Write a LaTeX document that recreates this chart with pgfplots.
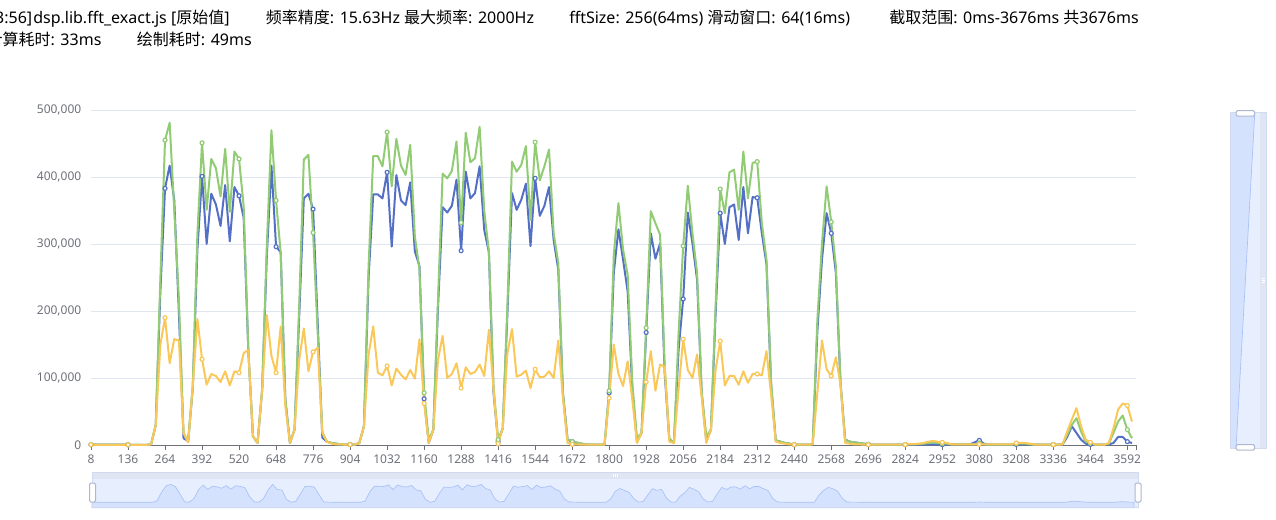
\documentclass[border=0pt]{standalone}
\usepackage{fontspec}
\setmainfont{Noto Sans}
\newfontfamily\cjk{Noto Sans CJK SC}
\usepackage{pgfplots}
\pgfplotsset{compat=1.18}
\usepackage{pgfplotstable}
\definecolor{cblue}{HTML}{5470C6}
\definecolor{cgreen}{HTML}{91CC75}
\definecolor{cyellow}{HTML}{FAC858}
\definecolor{gridc}{HTML}{E0E6F1}
\definecolor{axisc}{HTML}{6E7079}
\definecolor{filler}{HTML}{E7EFFF}
\definecolor{shadow}{HTML}{D5E2FD}
\definecolor{shadowline}{HTML}{A9C1F7}
\definecolor{strip}{HTML}{DFE5F2}
\definecolor{sborder}{HTML}{D2DBEE}
\definecolor{hborder}{HTML}{ACB8D1}

\pgfplotstableread{
t b g y
8 0.5 0.5 0.5
24 0.5 0.5 0.3
40 0.5 0.5 0.3
56 0.5 0.6 0.3
72 0.6 0.6 0.3
88 0.6 0.7 0.3
104 0.5 0.6 0.3
120 0.5 0.5 0.3
136 0.4 0.4 0.3
152 0.3 0.3 0.2
168 0.3 0.3 0.2
184 0.3 0.3 0.2
200 0.3 0.3 0.2
216 1 1 1
232 30 30 30
248 230 250 150
264 383 455 190
280 417 481 122
296 365 350 158
312 197 217 156
328 10 18 18
344 6 5 4
360 85 88 88
376 292 316 188
392 401 451 128
408 300 351 90
424 375 427 106
440 359 413 103
456 327 371 94
472 388 442 110
488 304 348 89
504 385 438 110
520 372 427 108
536 339 356 137
552 142 142 142
568 13 13 13
584 3 3 3
600 83 83 83
616 282 297 194
632 417 470 133
648 296 365 108
664 288 287 177
680 68 68 58
696 3 3 3
712 23 23 23
728 192 207 127
744 368 426 174
760 375 433 110
776 352 317 139
792 182 167 145
808 11 19 18
824 5 5 5
840 3 3 2
856 2 2 1
872 1 1 1
888 0.5 0.5 0.5
904 0.5 0.5 0.5
920 0.5 0.5 0.5
936 3 3 3
952 28 28 28
968 250 267 135
984 374 431 177
1000 374 431 108
1016 368 416 104
1032 407 467 118
1048 296 386 89
1064 403 457 114
1080 365 417 105
1096 358 403 98
1112 392 448 112
1128 289 311 99
1144 267 262 158
1160 69 78 62
1176 3 8 3
1192 23 23 23
1208 205 217 127
1224 355 405 163
1240 347 398 100
1256 357 409 106
1272 396 453 122
1288 290 332 85
1304 408 466 116
1320 368 422 106
1336 376 428 109
1352 416 475 120
1368 321 349 103
1384 288 289 172
1400 78 88 83
1416 5 8 2
1432 25 25 25
1448 195 207 137
1464 376 423 173
1480 351 408 102
1496 366 418 105
1512 390 446 111
1528 297 336 85
1544 398 452 113
1560 342 395 101
1576 357 416 102
1592 385 441 110
1608 306 316 100
1624 262 272 156
1640 78 78 70
1656 8 8 3
1672 5 5 1
1688 3 4 1
1704 2 2 0.5
1720 1 1 0.5
1736 0.5 0.5 0.5
1752 0.5 0.5 0.5
1768 0.5 0.5 0.5
1784 0.5 0.5 0.5
1800 78 81 70
1816 257 284 150
1832 322 361 106
1848 277 292 88
1864 229 254 125
1880 83 93 68
1896 5 10 3
1912 18 18 18
1928 168 175 94
1944 316 349 140
1960 278 331 81
1976 301 314 120
1992 107 117 117
2008 8 10 5
2024 3 3 3
2040 142 167 83
2056 218 297 158
2072 347 387 112
2088 301 316 100
2104 247 257 135
2120 78 78 70
2136 5 13 3
2152 23 23 23
2168 195 207 112
2184 346 382 155
2200 300 346 89
2216 355 407 103
2232 359 411 103
2248 306 351 90
2264 385 438 110
2280 316 368 93
2296 370 421 106
2312 369 423 106
2328 316 331 104
2344 270 277 140
2360 90 93 75
2376 7 7 5
2392 5 5 3
2408 3 3 2
2424 2 2 1
2440 0.5 0.5 0.5
2456 0.5 0.5 0.5
2472 0.5 0.5 0.5
2488 0.5 0.5 0.5
2504 1 1 1
2520 170 187 78
2536 277 301 156
2552 346 386 113
2568 316 333 103
2584 257 267 131
2600 93 93 90
2616 8 8 3
2632 5 5 2
2648 4 4 1
2664 3 3 1
2680 2 2 0.5
2696 1 1 0.5
2712 0.5 0.5 0.5
2728 0.5 0.5 0.5
2744 0.5 0.5 0.5
2760 0.5 0.5 0.5
2776 0.5 0.5 0.5
2792 0.5 0.5 0.5
2808 0.5 0.5 0.5
2824 0.5 0.5 0.5
2840 0.5 1 1.5
2856 0.5 1 1.5
2872 0.5 1.5 2
2888 0.5 2 3
2904 1 3 5
2920 1 4 6
2936 1 3 5
2952 0.5 2 4
2968 0.5 2 3
2984 1 1 1
3000 1 1 1
3016 1 1 1
3032 1 1 1
3048 1 1 1
3064 4 1 1
3080 7 3 1
3096 2 1 1
3112 0.5 0.5 1
3128 0.5 0.5 1
3144 0.5 0.5 1
3160 0.5 0.5 1
3176 0.5 0.5 1
3192 0.5 0.5 1
3208 1 2 3
3224 1 2 3
3240 1 2 3
3256 1 1 2
3272 0.5 0.5 0.5
3288 0.5 0.5 0.5
3304 0.5 0.5 0.5
3320 0.5 0.5 0.5
3336 0.5 0.5 0.5
3352 0.5 0.5 0.5
3368 1 1 1
3384 12 15 20
3400 28 30 38
3416 18 40 55
3432 8 20 28
3448 2 5 8
3464 1 3 4
3480 0.5 0.5 0.5
3496 0.5 0.5 0.5
3512 0.5 0.5 0.5
3528 1 2 3
3544 3 18 25
3560 12 35 53
3576 12 44 62
3592 5 23 59
3608 3 10 35
}\data

\begin{document}
\begin{tikzpicture}[x=0.75pt,y=0.75pt]
\useasboundingbox (0,0) rectangle (1276,519);
% header text
\begin{scope}[every node/.style={inner sep=0pt, font=\fontsize{12pt}{14pt}\selectfont}]
\node[anchor=base east] at (32.5,495) {3:56]};
\node[anchor=base west] at (33,495) {dsp.lib.fft\_exact.js [{\cjk 原始值}]};
\node[anchor=base west] at (265.7,495) {{\cjk 频率精度}: 15.63Hz {\cjk 最大频率}: 2000Hz};
\node[anchor=base west] at (569,495) {fftSize: 256(64ms) {\cjk 滑动窗口}: 64(16ms)};
\node[anchor=base west] at (889,495) {{\cjk 截取范围}: 0ms-3676ms {\cjk 共}3676ms};
\node[anchor=base east] at (101.7,473.3) {{\cjk 计算耗时}: 33ms};
\node[anchor=base west] at (136.7,473.3) {{\cjk 绘制耗时}: 49ms};
\end{scope}

% main chart
\begin{axis}[
  at={(68.25pt,55.5pt)}, anchor=south west,
  scale only axis, width=783.75pt, height=251.25pt,
  xmin=8, xmax=3622, ymin=0, ymax=500,
  clip=false,
  axis x line*=bottom, axis y line*=left,
  x axis line style={axisc, line width=0.75pt},
  y axis line style={draw=none},
  ytick style={draw=none},
  xtick style={axisc, line width=0.75pt},
  tick align=outside,
  major tick length=3.75pt,
  ymajorgrids, grid style={gridc, line width=0.75pt},
  xtick={8,136,...,3592},
  xticklabels={8,136,264,392,520,648,776,904,1032,1160,1288,1416,1544,1672,1800,1928,2056,2184,2312,2440,2568,2696,2824,2952,3080,3208,3336,3464,3592},
  extra x ticks={3622}, extra x tick labels={},
  ytick={0,100,...,500},
  yticklabels={0,{100,000},{200,000},{300,000},{400,000},{500,000}},
  tick label style={font=\fontsize{9pt}{10pt}\selectfont, text=axisc},
  every axis plot/.append style={line width=1.5pt, line join=round, mark=*, mark repeat=8, mark size=1.5pt, mark options={fill=white, line width=0.9pt}},
]
\addplot[cblue] table[x=t,y=b]{\data};
\addplot[cgreen] table[x=t,y=g]{\data};
\addplot[cyellow] table[x=t,y=y]{\data};
\end{axis}

% bottom slider
\fill[filler] (92,11.3) rectangle (1138,40);
\fill[strip] (92,40) rectangle (1138,46.7);
\begin{axis}[
  at={(69pt,8.475pt)}, anchor=south west,
  scale only axis, width=784.5pt, height=21.525pt,
  xmin=8, xmax=3622, ymin=-125.1, ymax=542.1,
  hide axis, clip=false,
]
\addplot[draw=shadowline, line width=0.5pt, fill=shadow, mark=none] table[x=t,y=b]{\data} |- (axis cs:8,-125.1) -- cycle;
\end{axis}
\draw[sborder, line width=0.75pt] (92,11.3) rectangle (1138,46.7);
\foreach \xx in {613,615,617} \draw[white, line width=0.75pt] (\xx,42) -- (\xx,45);
\draw[hborder, fill=white, rounded corners=1pt, line width=0.75pt] (89.5,17) rectangle (95.5,36);
\draw[hborder, fill=white, rounded corners=1pt, line width=0.75pt] (1135,17) rectangle (1141,36);

% right slider
\fill[filler] (1230.7,70.7) rectangle (1260,406.3);
\fill[shadow] (1230.7,406.3) -- (1254.7,406.3) -- (1236,70.7) -- (1230.7,70.7) -- cycle;
\draw[shadowline, line width=0.5pt] (1254.7,405) -- (1236,70.7);
\fill[strip] (1260,70.7) rectangle (1266.7,406.3);
\draw[sborder, line width=0.75pt] (1230.7,70.7) rectangle (1266.7,406.3);
\foreach \yy in {237,239,241} \draw[white, line width=0.75pt] (1262,\yy) -- (1265,\yy);
\draw[hborder, fill=white, rounded corners=1pt, line width=0.75pt] (1236,403) rectangle (1254.7,408.3);
\draw[hborder, fill=white, rounded corners=1pt, line width=0.75pt] (1236,69) rectangle (1254.7,74.3);
\end{tikzpicture}
\end{document}
